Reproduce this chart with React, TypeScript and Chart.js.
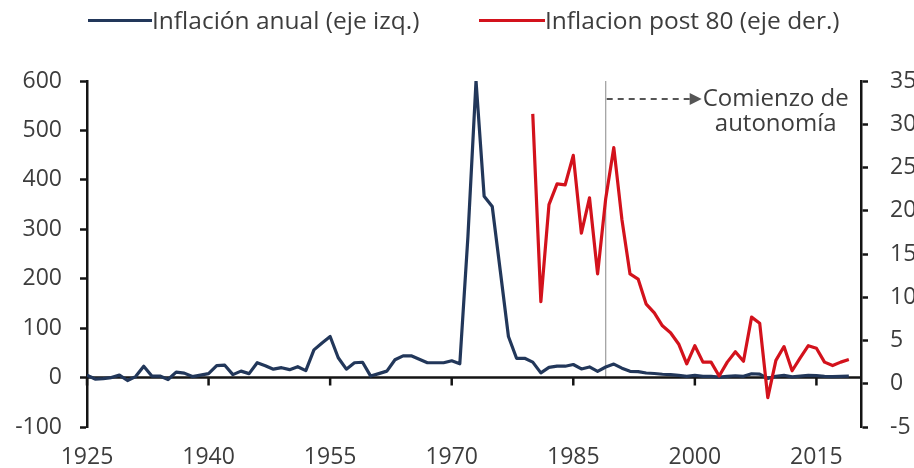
import React, { useEffect, useRef } from "react";
import { Chart, registerables } from "chart.js";

Chart.register(...registerables);

// ---------------- data ----------------
const years: number[] = Array.from({ length: 95 }, (_, i) => 1925 + i); // 1925..2019

// annual inflation, % (1925..1979)
const inflationPre80: number[] = [
  5, -3, -2, 0, 5, -6, 2, 23, 3, 3,
  -4, 11, 9, 2, 5, 8, 24, 25, 6, 13,
  8, 30, 24, 17, 20, 16, 22, 14, 56, 70,
  83, 40, 17, 30, 31, 3, 8, 13, 36, 44,
  44, 37, 30, 30, 30, 34, 28, 285, 600, 367,
  346, 215, 83, 39, 39,
];

// annual inflation, % (1980..2019)
const post80Years: number[] = Array.from({ length: 40 }, (_, i) => 1980 + i);
const inflationPost80: number[] = [
  31.2, 9.5, 20.7, 23.1, 23.0, 26.4, 17.4, 21.5, 12.7, 21.4,
  27.3, 19.0, 12.7, 12.1, 9.2, 8.2, 6.7, 5.9, 4.6, 2.3,
  4.4, 2.5, 2.5, 0.9, 2.5, 3.7, 2.6, 7.7, 7.0, -1.6,
  2.7, 4.3, 1.5, 3.0, 4.4, 4.1, 2.5, 2.1, 2.5, 2.8,
];

const xTickYears: number[] = [1925, 1940, 1955, 1970, 1985, 2000, 2015];
const autonomyYear = 1989;
const seriesLabels: string[] = ["Inflación anual (eje izq.)", "Inflacion post 80 (eje der.)"];
const annotationLines: string[] = ["Comienzo de", "autonomía"];

// ---------------- styles ----------------
const BLUE = "#22375a";
const RED = "#d3121c";
const AXIS = "#141414";
const TEXT = "#3d3d3d";
const FONT_FAMILY = '"Open Sans", "DejaVu Sans", sans-serif';

const overlayPlugin = {
  id: "overlay",
  beforeDatasetsDraw(chart: any) {
    const { ctx, chartArea, scales } = chart;
    const xs = scales.x;
    const yL = scales.yLeft;
    const y0 = yL.getPixelForValue(0);
    ctx.save();
    // autonomy vertical line
    const xa = xs.getPixelForValue(autonomyYear);
    ctx.strokeStyle = "#9c9c9c";
    ctx.lineWidth = 1.2;
    ctx.beginPath();
    ctx.moveTo(xa, chartArea.top);
    ctx.lineTo(xa, y0);
    ctx.stroke();
    // zero axis line with ticks
    ctx.strokeStyle = AXIS;
    ctx.lineWidth = 2.5;
    ctx.beginPath();
    ctx.moveTo(chartArea.left, y0);
    ctx.lineTo(chartArea.right, y0);
    xTickYears.forEach((v) => {
      const px = xs.getPixelForValue(v);
      ctx.moveTo(px, y0);
      ctx.lineTo(px, y0 + 8);
    });
    ctx.stroke();
    ctx.restore();
  },
  afterDraw(chart: any) {
    const { ctx, chartArea, scales } = chart;
    const xa = scales.x.getPixelForValue(autonomyYear);
    const ya = chartArea.top + 18;
    const tipX = xa + 96;
    ctx.save();
    ctx.strokeStyle = "#555";
    ctx.fillStyle = "#555";
    ctx.lineWidth = 2;
    ctx.setLineDash([6, 5]);
    ctx.beginPath();
    ctx.moveTo(xa + 1, ya);
    ctx.lineTo(tipX - 10, ya);
    ctx.stroke();
    ctx.setLineDash([]);
    ctx.beginPath();
    ctx.moveTo(tipX - 12, ya - 6);
    ctx.lineTo(tipX, ya);
    ctx.lineTo(tipX - 12, ya + 6);
    ctx.closePath();
    ctx.fill();
    ctx.font = `24px ${FONT_FAMILY}`;
    ctx.fillStyle = TEXT;
    ctx.textAlign = "center";
    ctx.textBaseline = "middle";
    const cx = tipX + 74;
    ctx.fillText(annotationLines[0], cx, ya);
    ctx.fillText(annotationLines[1], cx, ya + 25);
    ctx.restore();
  },
};

export default function App() {
  const canvasRef = useRef<HTMLCanvasElement | null>(null);

  useEffect(() => {
    if (!canvasRef.current) return;
    const tickFont = { family: FONT_FAMILY, size: 23 };
    const chart = new Chart(canvasRef.current, {
      type: "line",
      data: {
        labels: years,
        datasets: [
          {
            label: seriesLabels[0],
            data: [...inflationPre80, ...inflationPost80],
            borderColor: BLUE,
            backgroundColor: BLUE,
            borderWidth: 3.2,
            yAxisID: "yLeft",
            order: 2,
          },
          {
            label: seriesLabels[1],
            data: post80Years.map((yr, i) => ({ x: yr, y: inflationPost80[i] })),
            borderColor: RED,
            backgroundColor: RED,
            borderWidth: 3.2,
            yAxisID: "yRight",
            order: 1,
          },
        ],
      },
      options: {
        responsive: false,
        animation: false,
        layout: { padding: { top: 81, left: 0, right: 0, bottom: 0 } },
        elements: { point: { radius: 0 }, line: { tension: 0, borderJoinStyle: "round" } },
        plugins: { legend: { display: false }, tooltip: { enabled: false } },
        scales: {
          x: {
            type: "linear",
            min: 1925,
            max: 2020.5,
            afterBuildTicks: (s: any) => {
              s.ticks = xTickYears.map((v) => ({ value: v }));
            },
            afterFit: (s: any) => {
              s.height = 41;
            },
            grid: { display: false, drawTicks: false },
            border: { display: false },
            ticks: {
              autoSkip: false,
              maxRotation: 0,
              padding: 17,
              font: tickFont,
              color: TEXT,
              callback: (v: any) => String(v),
            },
          },
          yLeft: {
            type: "linear",
            position: "left",
            min: -100,
            max: 600,
            afterFit: (s: any) => {
              s.width = 87;
            },
            ticks: { stepSize: 100, padding: 18, font: tickFont, color: TEXT },
            grid: { drawOnChartArea: false, drawTicks: true, tickLength: 7, tickWidth: 2.5, tickColor: AXIS },
            border: { display: true, color: AXIS, width: 2.5 },
          },
          yRight: {
            type: "linear",
            position: "right",
            min: -5,
            max: 35,
            afterFit: (s: any) => {
              s.width = 53;
            },
            ticks: { stepSize: 5, padding: 22, font: tickFont, color: TEXT },
            grid: { drawOnChartArea: false, drawTicks: true, tickLength: 7, tickWidth: 2.5, tickColor: AXIS },
            border: { display: true, color: AXIS, width: 2.5 },
          },
        },
      },
      plugins: [overlayPlugin],
    } as any);
    return () => chart.destroy();
  }, []);

  const legendItem = (label: string, color: string, left: number, lineW: number) => (
    <div
      style={{
        position: "absolute",
        left,
        top: 6,
        height: 28,
        display: "flex",
        alignItems: "center",
        whiteSpace: "nowrap",
      }}
    >
      <span style={{ display: "inline-block", width: lineW, height: 3, background: color }} />
      <span style={{ fontFamily: FONT_FAMILY, fontSize: 24.5, lineHeight: "28px", color: TEXT }}>{label}</span>
    </div>
  );

  return (
    <div style={{ position: "absolute", left: 0, top: 0, width: 914, height: 468, background: "#fff" }}>
      <canvas ref={canvasRef} width={914} height={468} style={{ position: "absolute", left: 0, top: 0 }} />
      {legendItem(seriesLabels[0], BLUE, 88, 64)}
      {legendItem(seriesLabels[1], RED, 479, 66)}
    </div>
  );
}
